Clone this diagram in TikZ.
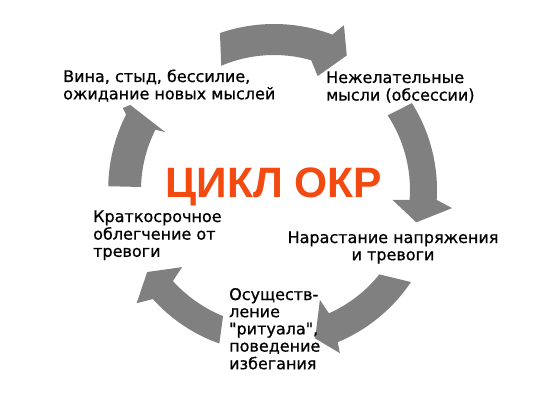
\documentclass[tikz,border=0pt]{standalone}
\usepackage{fontspec}
\setmainfont{DejaVu Sans}[Ligatures=TeXOff,FakeBold=0.8]
\newfontfamily\titlefont{Liberation Sans}
\definecolor{arrowgray}{RGB}{128,128,128}
\definecolor{okr}{RGB}{242,74,16}
\begin{document}
\begin{tikzpicture}[x=1pt,y=1pt,
  cyc/.style={fill=arrowgray, draw=none},
  lbl/.style={font=\fontsize{16}{17.2}\selectfont, inner sep=0pt, text=black},
  ttl/.style={font=\titlefont\bfseries\fontsize{42.5}{44}\selectfont, text=okr, inner sep=0pt}]
\useasboundingbox (0,0) rectangle (550,400);
\fill[white] (0,0) rectangle (550,400);
\begin{scope}[shift={(274,210)}]
  % top arrow
  \fill[cyc] (113:135) arc[start angle=113,end angle=74,radius=135]
     -- (69:122) -- (61.6:153) -- (67:179) -- (69.4:166)
     arc[start angle=69.4,end angle=109,radius=166] -- cycle;
  % right arrow
  \fill[cyc] (33.3:136) arc[start angle=33.3,end angle=-4.2,radius=136]
     -- (-4.8:119) -- (-12.8:146) -- (-5.8:179) -- (-3.5:163)
     arc[start angle=-3.5,end angle=32.2,radius=163] -- cycle;
  % lower right arrow
  \fill[cyc] (-38.7:135) arc[start angle=-38.7,end angle=-66,radius=135]
     -- (-67.3:119) -- (-74.5:154) -- (-68:176) -- (-67.3:165)
     arc[start angle=-67.3,end angle=-33.9,radius=165] -- cycle;
  % lower left arrow
  \fill[cyc] (-112:136) arc[start angle=-112,end angle=-138,radius=136]
     -- (-140:120) -- (-147.1:151) -- (-140.5:178) -- (-138:163)
     arc[start angle=-138,end angle=-109.6,radius=163] -- cycle;
  % left arrow
  \fill[cyc] (178.7:133) arc[start angle=178.7,end angle=153,radius=133]
     -- (152:123) -- (149.4:167) -- (151.5:172) -- (153:166)
     arc[start angle=153,end angle=179,radius=164] -- cycle;
\end{scope}
\node[ttl, anchor=base] (title) at (274,203) {ЦИКЛ ОКР};
\node[lbl, anchor=base west] (guilt) at (63,318)
  {\begin{tabular}[t]{@{}l@{}}Вина, стыд, бессилие,\\ожидание новых мыслей\end{tabular}};
\node[lbl, anchor=base west] (obs) at (326,317)
  {\begin{tabular}[t]{@{}l@{}}Нежелательные\\мысли (обсессии)\end{tabular}};
\node[lbl, anchor=base] (anx) at (393,157)
  {\begin{tabular}[t]{@{}c@{}}Нарастание напряжения\\и тревоги\end{tabular}};
\node[lbl, anchor=base west] (rit) at (229,100)
  {\begin{tabular}[t]{@{}l@{}}Осуществ-\\ление\\"ритуала",\\поведение\\избегания\end{tabular}};
\node[lbl, anchor=base west] (relief) at (93,178)
  {\begin{tabular}[t]{@{}l@{}}Краткосрочное\\облегчение от\\тревоги\end{tabular}};
\end{tikzpicture}
\end{document}
